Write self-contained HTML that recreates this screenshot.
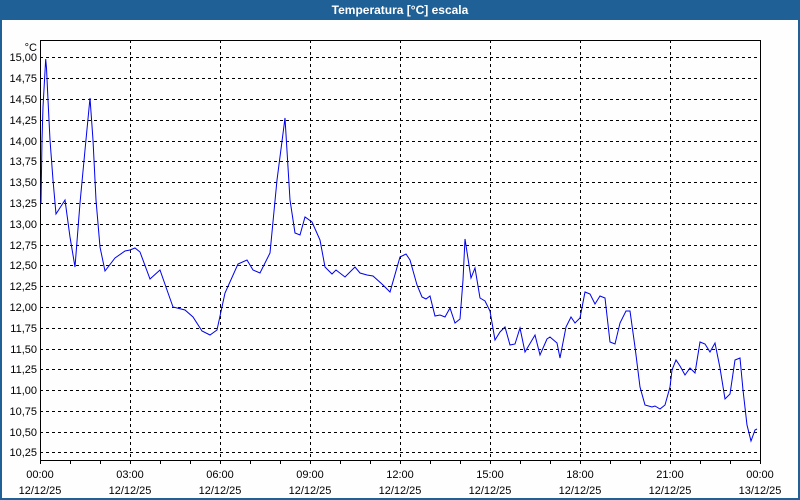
<!DOCTYPE html>
<html><head><meta charset="utf-8"><style>
html,body{margin:0;padding:0;background:#fff}
</style></head><body>
<svg width="800" height="500" xmlns="http://www.w3.org/2000/svg" style="display:block">
<rect x="0" y="0" width="800" height="500" fill="#1f6096"/>
<rect x="2" y="20" width="796" height="478" fill="#fdfefd"/>
<text x="400" y="14" fill="#fff" font-family="Liberation Sans, sans-serif" font-size="12" font-weight="bold" text-anchor="middle">Temperatura [°C] escala</text>
<g stroke="#000" stroke-width="1" stroke-dasharray="3,3" fill="none">
<path d="M40 57.5H760M40 78.5H760M40 99.5H760M40 120.5H760M40 141.5H760M40 161.5H760M40 182.5H760M40 203.5H760M40 224.5H760M40 245.5H760M40 265.5H760M40 286.5H760M40 307.5H760M40 328.5H760M40 349.5H760M40 369.5H760M40 390.5H760M40 411.5H760M40 432.5H760M40 452.5H760"/>
<path d="M130.5 40V460M220.5 40V460M310.5 40V460M400.5 40V460M490.5 40V460M580.5 40V460M670.5 40V460"/>
</g>
<rect x="40.5" y="40.5" width="720" height="420" fill="none" stroke="#000"/>
<g stroke="#000"><path d="M70.5 460V464M100.5 460V464M130.5 460V464M160.5 460V464M190.5 460V464M220.5 460V464M250.5 460V464M280.5 460V464M310.5 460V464M340.5 460V464M370.5 460V464M400.5 460V464M430.5 460V464M460.5 460V464M490.5 460V464M520.5 460V464M550.5 460V464M580.5 460V464M610.5 460V464M640.5 460V464M670.5 460V464M700.5 460V464M730.5 460V464M760.5 460V464M40.5 460V464"/></g>
<g font-family="Liberation Sans, sans-serif" font-size="11" fill="#000" text-anchor="end">
<text x="37" y="51">°C</text>
<text x="37" y="61">15,00</text><text x="37" y="82">14,75</text><text x="37" y="103">14,50</text><text x="37" y="124">14,25</text><text x="37" y="145">14,00</text><text x="37" y="165">13,75</text><text x="37" y="186">13,50</text><text x="37" y="207">13,25</text><text x="37" y="228">13,00</text><text x="37" y="249">12,75</text><text x="37" y="269">12,50</text><text x="37" y="290">12,25</text><text x="37" y="311">12,00</text><text x="37" y="332">11,75</text><text x="37" y="353">11,50</text><text x="37" y="373">11,25</text><text x="37" y="394">11,00</text><text x="37" y="415">10,75</text><text x="37" y="436">10,50</text><text x="37" y="456">10,25</text>
</g>
<g font-family="Liberation Sans, sans-serif" font-size="11" fill="#000" text-anchor="middle">
<text x="40" y="478">00:00</text><text x="40" y="494">12/12/25</text>
<text x="130" y="478">03:00</text><text x="130" y="494">12/12/25</text>
<text x="220" y="478">06:00</text><text x="220" y="494">12/12/25</text>
<text x="310" y="478">09:00</text><text x="310" y="494">12/12/25</text>
<text x="400" y="478">12:00</text><text x="400" y="494">12/12/25</text>
<text x="490" y="478">15:00</text><text x="490" y="494">12/12/25</text>
<text x="580" y="478">18:00</text><text x="580" y="494">12/12/25</text>
<text x="670" y="478">21:00</text><text x="670" y="494">12/12/25</text>
<text x="760" y="478">00:00</text><text x="760" y="494">13/12/25</text>
</g>
<polyline fill="none" stroke="#0000ee" stroke-width="1" points="41,203 42,140 43,107 45.7,59 46.5,68 48,100 50,140 53,180 56,214 65,200 70,237 75,267 80,203 85,150 90,98 93,140 96,200 100,247 105,271 115,258 125,251 130,250 135,248 140,252 150,279 160,270 167,290 173,307 185,310 193,317 202,331 210,335 217,330 225,293 238,264 247,260 253,270 260,273 270,253 277,180 285,118 290,200 295,233 300,235 305,217 312,222 320,240 325,267 332,274 336,270 345,277 355,267 360,273 367,275 373,276 383,285 390,292 400,257 406,254 410,260 417,285 422,297 426,299 430,296 435,316 440,315 445,317 450,308 455,323 460,319 463,280 465,239 471,278 475,268 480,298 485,301 490,311 495,340 500,332 505,327 510,345 515,344 520,328 525,352 535,335 540,355 547,339 550,337 557,343 560,358 566,327 571,317 575,323 580,318 585,292 590,294 595,304 600,296 605,298 610,342 615,344 620,323 626,311 630,311 635,347 640,387 645,405 652,407 655,406 660,409 665,405 670,387 672,370 676,360 680,366 685,375 690,368 695,373 700,342 705,344 710,352 715,343 720,368 725,399 730,394 735,360 740,358 743,390 747,425 751,441 755,430 757,429"/>
</svg>
</body></html>
